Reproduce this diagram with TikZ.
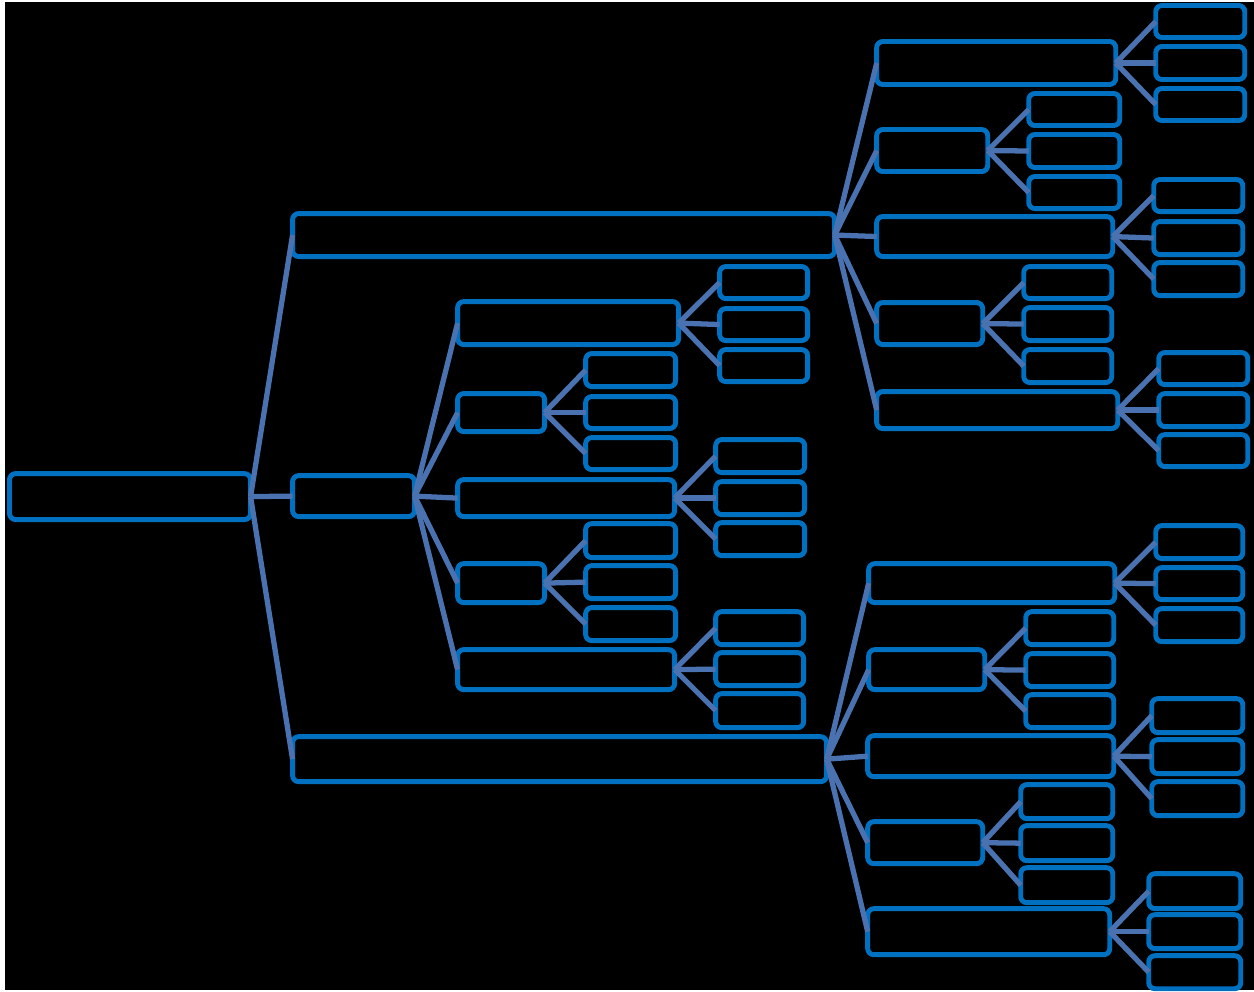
\documentclass[tikz,border=0pt]{standalone}
\usepackage{tikz}
\definecolor{boxblue}{RGB}{0,112,192}
\definecolor{linkblue}{RGB}{74,114,176}
\tikzset{
  bxs/.style={draw=boxblue, line width=2.8pt, rounded corners=3.5pt, inner sep=0pt, outer sep=0pt, fill=black},
  conn/.style={draw=linkblue, line width=3pt}
}
\newcommand\bx[5]{%
  \pgfmathsetmacro\bxw{(#4-#2-5)*0.02}%
  \pgfmathsetmacro\bxh{(#5-#3-5)*0.02}%
  \pgfmathsetmacro\bxx{(#2+#4)/2*0.02}%
  \pgfmathsetmacro\bxy{-(#3+#5)/2*0.02}%
  \node[bxs, minimum width=\bxw cm, minimum height=\bxh cm] (#1) at (\bxx,\bxy) {};}
\begin{document}
\begin{tikzpicture}
\fill[white] (0,0) rectangle (25.08,-19.84);
\fill[black] (0.10,-0.04) rectangle (25.08,-19.80);
\useasboundingbox (0,0) rectangle (25.08,-19.84);
\begin{scope}
\bx{root}{7}{471}{253}{522}
\bx{A}{290}{211}{837}{259}
\bx{B}{290}{473}{417}{519}
\bx{C}{290}{734}{829}{784}
% B children
\bx{B1}{455}{299}{681}{347}
\bx{B11}{717}{264}{810}{301}
\bx{B12}{717}{306}{810}{343}
\bx{B13}{717}{347}{810}{384}
\bx{B2}{455}{391}{547}{434}
\bx{B21}{583}{351}{678}{389}
\bx{B22}{583}{394}{678}{431}
\bx{B23}{583}{435}{678}{472}
\bx{B3}{455}{477}{677}{519}
\bx{B31}{713}{437}{807}{475}
\bx{B32}{713}{479}{807}{517}
\bx{B33}{713}{520}{807}{558}
\bx{B4}{455}{561}{547}{605}
\bx{B41}{583}{521}{678}{560}
\bx{B42}{583}{563}{678}{601}
\bx{B43}{583}{605}{678}{643}
\bx{B5}{455}{647}{677}{692}
\bx{B51}{713}{609}{806}{647}
\bx{B52}{713}{650}{806}{688}
\bx{B53}{713}{691}{806}{730}
% A children
\bx{A1}{874}{39}{1118}{87}
\bx{A11}{1153}{3}{1247}{40}
\bx{A12}{1153}{44}{1247}{82}
\bx{A13}{1153}{86}{1247}{123}
\bx{A2}{874}{127}{990}{174}
\bx{A21}{1026}{91}{1122}{128}
\bx{A22}{1026}{132}{1122}{170}
\bx{A23}{1026}{174}{1122}{211}
\bx{A3}{874}{214}{1115}{259}
\bx{A31}{1151}{177}{1245}{214}
\bx{A32}{1151}{219}{1245}{257}
\bx{A33}{1151}{260}{1245}{298}
\bx{A4}{874}{300}{985}{347}
\bx{A41}{1021}{264}{1114}{301}
\bx{A42}{1021}{305}{1114}{343}
\bx{A43}{1021}{347}{1114}{385}
\bx{A5}{874}{389}{1120}{431}
\bx{A51}{1156}{350}{1250}{387}
\bx{A52}{1156}{391}{1250}{429}
\bx{A53}{1156}{432}{1250}{469}
% C children
\bx{C1}{866}{561}{1117}{605}
\bx{C11}{1153}{523}{1245}{561}
\bx{C12}{1153}{565}{1245}{602}
\bx{C13}{1153}{606}{1245}{644}
\bx{C2}{866}{647}{987}{692}
\bx{C21}{1023}{609}{1116}{647}
\bx{C22}{1023}{651}{1116}{689}
\bx{C23}{1023}{692}{1116}{730}
\bx{C3}{865}{733}{1116}{779}
\bx{C31}{1149}{696}{1245}{735}
\bx{C32}{1149}{737}{1245}{776}
\bx{C33}{1149}{779}{1245}{818}
\bx{C4}{865}{819}{985}{866}
\bx{C41}{1018}{782}{1115}{821}
\bx{C42}{1018}{823}{1115}{863}
\bx{C43}{1018}{865}{1115}{905}
\bx{C5}{865}{906}{1112}{957}
\bx{C51}{1146}{871}{1243}{911}
\bx{C52}{1146}{912}{1243}{951}
\bx{C53}{1146}{953}{1243}{991}
\end{scope}
% connectors
\foreach \c in {A,B,C} \draw[conn] (root.east) -- (\c.west);
\foreach \c in {1,...,5} {
  \draw[conn] (A.east) -- (A\c.west);
  \draw[conn] (B.east) -- (B\c.west);
  \draw[conn] (C.east) -- (C\c.west);
  \foreach \d in {1,2,3} {
    \draw[conn] (A\c.east) -- (A\c\d.west);
    \draw[conn] (B\c.east) -- (B\c\d.west);
    \draw[conn] (C\c.east) -- (C\c\d.west);
  }
}
\end{tikzpicture}
\end{document}
